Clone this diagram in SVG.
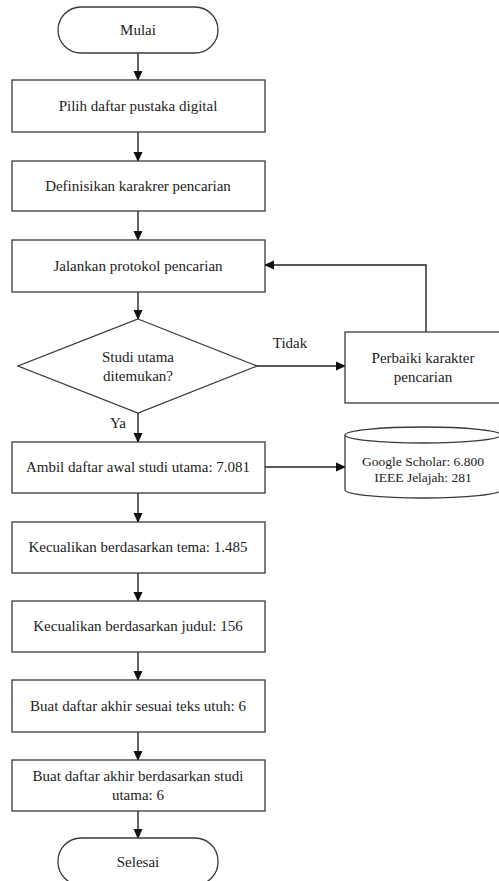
<svg xmlns="http://www.w3.org/2000/svg" width="499" height="881" viewBox="0 0 499 881">
<style>
.s{fill:#fff;stroke:#3a3a3a;stroke-width:1.3}
.t{font-family:"Liberation Serif","Times New Roman",serif;font-size:15px;fill:#222;text-anchor:middle}
.d{font-size:13.5px}
.c{fill:none;stroke:#222;stroke-width:1.4}
</style>
<defs>
<marker id="a" markerWidth="10" markerHeight="10" refX="9" refY="5" orient="auto" markerUnits="userSpaceOnUse">
<path d="M0,0.5 L10,5 L0,9.5 Z" fill="#111"/>
</marker>
</defs>
<rect width="499" height="881" fill="#fff"/>
<g id="connectors">
<line class="c" x1="138" y1="53" x2="138" y2="80" marker-end="url(#a)"/>
<line class="c" x1="138" y1="132" x2="138" y2="161" marker-end="url(#a)"/>
<line class="c" x1="138" y1="211" x2="138" y2="240" marker-end="url(#a)"/>
<line class="c" x1="138" y1="292" x2="138" y2="319" marker-end="url(#a)"/>
<line class="c" x1="257" y1="366" x2="345" y2="366" marker-end="url(#a)"/>
<polyline class="c" points="426,332 426,265 265,265" marker-end="url(#a)"/>
<line class="c" x1="138" y1="413" x2="138" y2="442" marker-end="url(#a)"/>
<line class="c" x1="265" y1="467" x2="345" y2="467" marker-end="url(#a)"/>
<line class="c" x1="138" y1="493" x2="138" y2="522" marker-end="url(#a)"/>
<line class="c" x1="138" y1="573" x2="138" y2="601" marker-end="url(#a)"/>
<line class="c" x1="138" y1="652" x2="138" y2="680" marker-end="url(#a)"/>
<line class="c" x1="138" y1="732" x2="138" y2="760" marker-end="url(#a)"/>
<line class="c" x1="138" y1="811" x2="138" y2="838" marker-end="url(#a)"/>
<text class="t" x="290" y="348">Tidak</text>
<text class="t" x="118" y="428">Ya</text>
</g>
<g id="mulai">
<rect class="s" x="58" y="7" width="160" height="46" rx="23"/>
<text class="t" x="138" y="35">Mulai</text>
</g>
<g id="pilih">
<rect class="s" x="12" y="80" width="253" height="52"/>
<text class="t" x="138" y="111">Pilih daftar pustaka digital</text>
</g>
<g id="definisikan">
<rect class="s" x="12" y="161" width="253" height="50"/>
<text class="t" x="138" y="191">Definisikan karakrer pencarian</text>
</g>
<g id="jalankan">
<rect class="s" x="12" y="240" width="253" height="52"/>
<text class="t" x="138" y="271">Jalankan protokol pencarian</text>
</g>
<g id="studi">
<polygon class="s" points="138,319 257,366 138,413 18,366"/>
<text class="t" x="138" y="362">Studi utama</text>
<text class="t" x="138" y="381">ditemukan?</text>
</g>
<g id="perbaiki">
<rect class="s" x="345" y="332" width="156" height="71"/>
<text class="t" x="423" y="363">Perbaiki karakter</text>
<text class="t" x="423" y="382">pencarian</text>
</g>
<g id="ambil">
<rect class="s" x="12" y="442" width="253" height="51"/>
<text class="t" x="138" y="472">Ambil daftar awal studi utama: 7.081</text>
</g>
<g id="database">
<path class="s" d="M345,435 L345,490 A78,8 0 0 0 501,490 L501,435"/>
<ellipse class="s" cx="423" cy="435" rx="78" ry="8"/>
<text class="t d" x="423" y="466">Google Scholar: 6.800</text>
<text class="t d" x="423" y="482">IEEE Jelajah: 281</text>
</g>
<g id="tema">
<rect class="s" x="12" y="522" width="253" height="51"/>
<text class="t" x="138" y="552">Kecualikan berdasarkan tema: 1.485</text>
</g>
<g id="judul">
<rect class="s" x="12" y="601" width="253" height="51"/>
<text class="t" x="138" y="631">Kecualikan berdasarkan judul: 156</text>
</g>
<g id="teks">
<rect class="s" x="12" y="680" width="253" height="52"/>
<text class="t" x="138" y="711">Buat daftar akhir sesuai teks utuh: 6</text>
</g>
<g id="akhir">
<rect class="s" x="12" y="760" width="253" height="51"/>
<text class="t" x="138" y="781">Buat daftar akhir berdasarkan studi</text>
<text class="t" x="138" y="800">utama: 6</text>
</g>
<g id="selesai">
<rect class="s" x="58" y="838" width="160" height="47" rx="23"/>
<text class="t" x="138" y="867">Selesai</text>
</g>
</svg>
